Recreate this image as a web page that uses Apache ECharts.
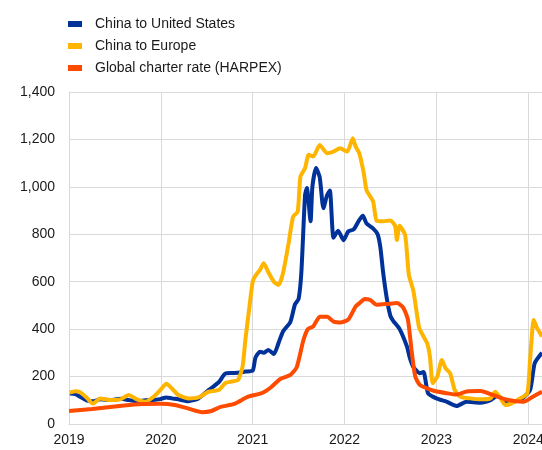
<!DOCTYPE html>
<html>
<head>
<meta charset="utf-8">
<script src="https://cdn.jsdelivr.net/npm/echarts@6/dist/echarts.min.js"></script>
<style>html,body{margin:0;padding:0;background:#fff}#c{width:542px;height:450px}</style>
</head>
<body>
<div id="c"></div>
<script>
var seriesNames = ['China to United States', 'China to Europe', 'Global charter rate (HARPEX)'];
var yTicks = [0, 200, 400, 600, 800, 1000, 1200, 1400];
var xYears = [2019, 2020, 2021, 2022, 2023, 2024];

var chinaUS = [[2019.01,129],[2019.07,126],[2019.12,115],[2019.19,100],[2019.26,96],[2019.34,104],[2019.45,101],[2019.56,106],[2019.65,101],[2019.74,96],[2019.83,100],[2019.92,101],[2019.99,105],[2020.06,112],[2020.12,108],[2020.19,104],[2020.30,96],[2020.41,108],[2020.52,143],[2020.63,176],[2020.70,212],[2020.77,215],[2020.84,216],[2020.92,221],[2021.00,225],[2021.03,280],[2021.08,305],[2021.12,300],[2021.17,312],[2021.23,295],[2021.28,340],[2021.33,390],[2021.41,430],[2021.46,504],[2021.50,528],[2021.53,640],[2021.57,965],[2021.59,995],[2021.63,855],[2021.65,1000],[2021.69,1080],[2021.73,1040],[2021.77,910],[2021.81,965],[2021.84,985],[2021.88,785],[2021.93,815],[2021.99,775],[2022.04,812],[2022.10,821],[2022.16,860],[2022.20,878],[2022.24,845],[2022.31,825],[2022.36,800],[2022.39,745],[2022.42,640],[2022.46,530],[2022.50,455],[2022.53,435],[2022.60,400],[2022.68,326],[2022.71,280],[2022.75,240],[2022.82,214],[2022.86,219],[2022.91,129],[2023.00,108],[2023.11,94],[2023.22,76],[2023.33,94],[2023.48,90],[2023.59,101],[2023.66,118],[2023.77,94],[2023.91,101],[2024.02,143],[2024.07,256],[2024.15,300]];

var chinaEurope = [[2019.01,132],[2019.07,138],[2019.12,134],[2019.19,112],[2019.26,86],[2019.34,108],[2019.45,101],[2019.56,104],[2019.65,122],[2019.74,104],[2019.83,94],[2019.92,115],[2020.01,150],[2020.06,170],[2020.12,150],[2020.19,122],[2020.30,108],[2020.41,112],[2020.52,136],[2020.63,143],[2020.70,172],[2020.77,179],[2020.84,186],[2020.89,242],[2020.92,354],[2020.96,480],[2021.00,600],[2021.03,625],[2021.08,650],[2021.12,678],[2021.17,640],[2021.23,600],[2021.28,586],[2021.33,636],[2021.39,760],[2021.44,874],[2021.49,895],[2021.52,1043],[2021.57,1079],[2021.61,1135],[2021.66,1128],[2021.73,1177],[2021.81,1142],[2021.88,1149],[2021.95,1163],[2022.03,1149],[2022.09,1205],[2022.12,1170],[2022.16,1142],[2022.21,1057],[2022.24,985],[2022.31,940],[2022.35,857],[2022.42,855],[2022.50,858],[2022.55,836],[2022.57,776],[2022.60,836],[2022.66,797],[2022.70,630],[2022.75,560],[2022.81,410],[2022.84,383],[2022.90,340],[2022.93,284],[2022.96,172],[2023.01,200],[2023.06,270],[2023.10,235],[2023.15,214],[2023.20,143],[2023.26,115],[2023.37,108],[2023.48,104],[2023.59,108],[2023.64,136],[2023.69,115],[2023.75,80],[2023.82,87],[2023.91,108],[2023.99,129],[2024.02,270],[2024.06,439],[2024.09,410],[2024.15,369]];

var harpex = [[2019.00,55],[2019.25,63],[2019.60,78],[2019.80,84],[2020.00,85],[2020.15,80],[2020.30,65],[2020.45,50],[2020.55,55],[2020.65,72],[2020.80,85],[2020.95,115],[2021.10,130],[2021.20,155],[2021.30,190],[2021.41,207],[2021.48,240],[2021.55,350],[2021.60,400],[2021.66,412],[2021.73,452],[2021.81,452],[2021.88,432],[2021.95,428],[2022.04,440],[2022.12,495],[2022.17,512],[2022.22,527],[2022.28,523],[2022.35,503],[2022.46,506],[2022.57,510],[2022.64,490],[2022.69,440],[2022.73,310],[2022.77,200],[2022.82,165],[2022.90,150],[2022.97,140],[2023.11,130],[2023.22,124],[2023.33,137],[2023.48,139],[2023.62,122],[2023.77,102],[2023.95,94],[2024.05,115],[2024.15,136]];

var colors = ['#003299', '#ffb400', '#ff4b00'];
var font = '"Liberation Sans", Arial, sans-serif';
var chart = echarts.init(document.getElementById('c'), null, {renderer: 'canvas'});
function mk(name, data, color) {
  return {name: name, type: 'line', data: data, showSymbol: false, smooth: 0.2,
    lineStyle: {width: 4, color: color}, itemStyle: {color: color}};
}
chart.setOption({
  animation: false,
  textStyle: {fontFamily: font},
  legend: {
    orient: 'vertical', left: 68, top: 17, padding: 0, itemWidth: 14, itemHeight: 6, itemGap: 8,
    icon: 'rect',
    textStyle: {fontSize: 14, color: '#1a1a1a', fontFamily: font, padding: [0, 0, 0, 8]},
    data: seriesNames
  },
  grid: {left: 69, right: 0, top: 92, bottom: 26, containLabel: false, outerBoundsMode: 'none'},
  xAxis: {
    type: 'value', min: xYears[0], max: 2024.15, interval: 1,
    axisLine: {show: true, lineStyle: {color: '#d9d9d9', width: 1}},
    axisTick: {show: false},
    splitLine: {show: true, lineStyle: {color: '#d9d9d9', width: 1}},
    axisLabel: {fontSize: 14, color: '#1a1a1a', fontFamily: font, margin: 9, showMaxLabel: false,
      formatter: function (v) { return xYears.indexOf(Math.round(v * 100) / 100) >= 0 ? String(v) : ''; }}
  },
  yAxis: {
    type: 'value', min: yTicks[0], max: yTicks[yTicks.length - 1], interval: 200,
    axisLine: {show: true, lineStyle: {color: '#d9d9d9', width: 1}},
    axisTick: {show: false},
    splitLine: {show: true, lineStyle: {color: '#d9d9d9', width: 1}},
    axisLabel: {fontSize: 14, color: '#1a1a1a', fontFamily: font, margin: 14,
      formatter: function (v) { return v.toLocaleString('en-US'); }}
  },
  series: [mk(seriesNames[0], chinaUS, colors[0]), mk(seriesNames[1], chinaEurope, colors[1]), mk(seriesNames[2], harpex, colors[2])]
});
</script>
</body>
</html>
